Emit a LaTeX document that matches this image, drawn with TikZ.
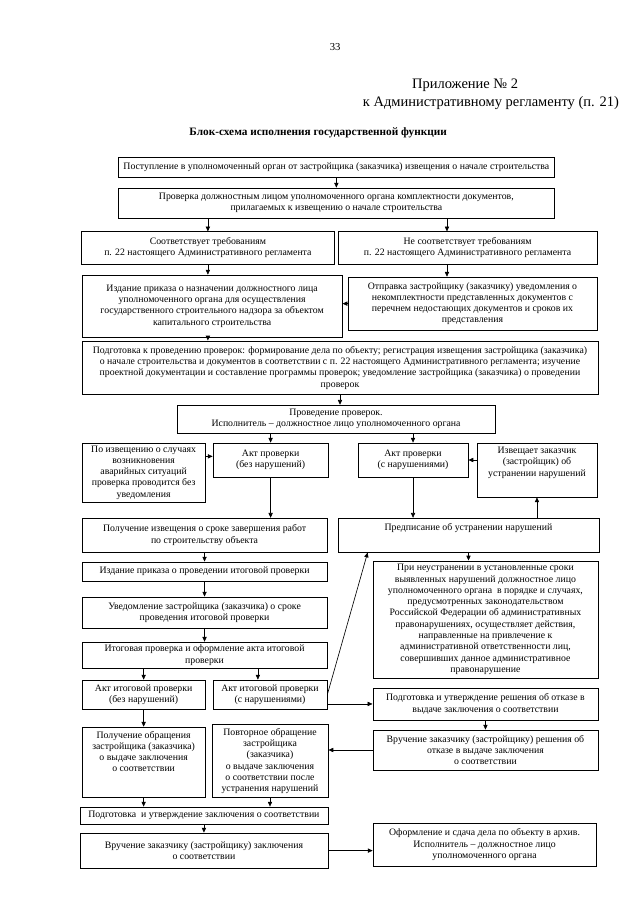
\documentclass[tikz,border=0pt]{standalone}
\usepackage{fontspec}
\setmainfont{Liberation Serif}
\usepackage{tikz}
\usetikzlibrary{arrows.meta,positioning,calc}
\newcommand\boxfont{\fontsize{9.2}{10.6}\selectfont}
\tikzset{
  box/.style={rectangle, draw=black, line width=0.7pt, align=center, inner sep=1pt, font=\boxfont},
  toptext/.style={text depth=#1},
  arr/.style={-{Triangle[length=1.6mm, width=1.4mm]}, line width=0.6pt, black},
}
\begin{document}
\begin{tikzpicture}[x=1cm, y=1cm]
\fill[white] (0,0) rectangle (21.12,-29.865);
\useasboundingbox (0,0) rectangle (21.12,-29.865);
\node[font=\fontsize{10}{12}\selectfont] (page) at (11.06,-1.55) {33};
\node[font=\fontsize{13.6}{16}\selectfont] (app) at (15.35,-2.81) {Приложение № 2};
\node[font=\fontsize{13.6}{16}\selectfont] (reg) at (16.2,-3.40) {к Административному регламенту (п. 21)};
\node[font=\fontsize{10.6}{13}\selectfont\bfseries] (title) at (10.5,-4.39) {Блок-схема исполнения государственной функции};
\node[box, minimum width=14.42cm, minimum height=0.66cm] (b1) at (11.10,-5.51)
{Поступление в уполномоченный орган от застройщика (заказчика) извещения о начале строительства};
\node[box, minimum width=14.42cm, minimum height=0.99cm] (b2) at (11.10,-6.70)
{Проверка должностным лицом уполномоченного органа комплектности документов,\\ прилагаемых к извещению о начале строительства};
\node[box, minimum width=8.32cm, minimum height=1.06cm] (b3L) at (6.86,-8.18)
{Соответствует требованиям\\ п. 22 настоящего Административного регламента};
\node[box, minimum width=8.55cm, minimum height=1.06cm] (b3R) at (15.43,-8.18)
{Не соответствует требованиям\\ п. 22 настоящего Административного регламента};
\node[box, minimum width=8.58cm, minimum height=2.05cm] (b4L) at (7.00,-10.10)
{Издание приказа о назначении должностного лица\\ уполномоченного органа для осуществления\\ государственного строительного надзора за объектом\\ капитального строительства};
\node[box, minimum width=8.22cm, minimum height=1.75cm] (b4R) at (15.59,-10.02)
{Отправка застройщику (заказчику) уведомления о\\ некомплектности представленных документов с\\ перечнем недостающих документов и сроков их\\ представления};
\node[box, minimum width=17.03cm, minimum height=1.78cm] (b5) at (11.22,-12.14)
{Подготовка к проведению проверок: формирование дела по объекту; регистрация извещения застройщика (заказчика)\\ о начале строительства и документов в соответствии с п. 22 настоящего Административного регламента; изучение\\ проектной документации и составление программы проверок; уведомление застройщика (заказчика) о проведении\\ проверок};
\node[box, minimum width=10.49cm, minimum height=0.92cm] (b6) at (11.09,-13.83)
{Проведение проверок.\\ Исполнитель – должностное лицо уполномоченного органа};
\node[box, minimum width=4.06cm, minimum height=1.95cm] (b7a) at (4.74,-15.59)
{По извещению о случаях\\ возникновения\\ аварийных ситуаций\\ проверка проводится без\\ уведомления};
\node[box, minimum width=3.80cm, minimum height=1.12cm] (b7b) at (8.93,-15.18)
{Акт проверки\\ (без нарушений)};
\node[box, minimum width=3.63cm, minimum height=1.12cm] (b7c) at (13.63,-15.18)
{Акт проверки\\ (с нарушениями)};
\node[box, toptext=0.55cm, minimum width=3.96cm, minimum height=1.78cm] (b8) at (17.72,-15.51)
{Извещает заказчик\\ (застройщик) об\\ устранении нарушений};
\node[box, minimum width=8.09cm, minimum height=1.12cm] (b9) at (6.75,-17.66)
{Получение извещения о сроке завершения работ\\ по строительству объекта};
\node[box, toptext=0.55cm, minimum width=8.61cm, minimum height=1.12cm] (b10) at (15.46,-17.66)
{Предписание об устранении нарушений};
\node[box, minimum width=8.09cm, minimum height=0.63cm] (b11) at (6.75,-18.86)
{Издание приказа о проведении итоговой проверки};
\node[box, minimum width=8.09cm, minimum height=1.02cm] (b12) at (6.75,-20.21)
{Уведомление застройщика (заказчика) о сроке\\ проведения итоговой проверки};
\node[box, minimum width=8.09cm, minimum height=0.86cm] (b13) at (6.75,-21.62)
{Итоговая проверка и оформление акта итоговой\\ проверки};
\node[box, minimum width=4.06cm, minimum height=0.96cm] (b14a) at (4.74,-22.92)
{Акт итоговой проверки\\ (без нарушений)};
\node[box, minimum width=3.76cm, minimum height=0.96cm] (b14b) at (8.91,-22.92)
{Акт итоговой проверки\\ (с нарушениями)};
\node[box, minimum width=7.43cm, minimum height=3.86cm] (b15) at (16.02,-20.44)
{При неустранении в установленные сроки\\ выявленных нарушений должностное лицо\\ уполномоченного органа \ в порядке и случаях,\\ предусмотренных законодательством\\ Российской Федерации об административных\\ правонарушениях, осуществляет действия,\\ направленные на привлечение к\\ административной ответственности лиц,\\ совершивших данное административное\\ правонарушение};
\node[box, minimum width=7.43cm, minimum height=1.06cm] (b16) at (16.02,-23.23)
{Подготовка и утверждение решения об отказе в\\ выдаче заключения о соответствии};
\node[box, minimum width=7.43cm, minimum height=1.32cm] (b17) at (16.02,-24.75)
{Вручение заказчику (застройщику) решения об\\ отказе в выдаче заключения\\ о соответствии};
\node[box, toptext=0.7cm, minimum width=4.06cm, minimum height=2.31cm] (b18a) at (4.74,-25.15)
{Получение обращения\\ застройщика (заказчика)\\ о выдаче заключения\\ о соответствии};
\node[box, minimum width=3.83cm, minimum height=2.38cm] (b18b) at (8.91,-25.11)
{Повторное обращение\\ застройщика\\ (заказчика)\\ о выдаче заключения\\ о соответствии после\\ устранения нарушений};
\node[box, minimum width=8.18cm, minimum height=0.56cm] (b19) at (6.73,-26.91)
{Подготовка \ и утверждение заключения о соответствии};
\node[box, minimum width=8.18cm, minimum height=1.16cm] (b20) at (6.73,-28.07)
{Вручение заказчику (застройщику) заключения\\ о соответствии};
\node[box, minimum width=7.36cm, minimum height=1.42cm] (b21) at (15.99,-27.87)
{Оформление и сдача дела по объекту в архив.\\ Исполнитель – должностное лицо\\ уполномоченного органа};
\coordinate (r2) at ([xshift=-0.68cm]b3R.north);
\coordinate (t2) at ([xshift=-0.4cm]b14b.north);
\coordinate (p1) at ([xshift=0.99cm]b10.south west);
\draw[arr] (b1.south) -- (b2.north);
\draw[arr] (b2.south -| b3L.north) -- (b3L.north);
\draw[arr] (b2.south -| r2) -- (r2);
\draw[arr] (b3L.south) -- (b3L.south |- b4L.north);
\draw[arr] (r2 |- b3R.south) -- (r2 |- b4R.north);
\draw[arr] (b4R.west) -- (b4R.west -| b4L.east);
\draw[arr] (b3L.south |- b4L.south) -- (b3L.south |- b5.north);
\draw[arr] (b5.south) -- (b5.south |- b6.north);
\draw[arr] (b6.south -| b7b.north) -- (b7b.north);
\draw[arr] (b6.south -| b7c.north) -- (b7c.north);
\draw[arr] ([yshift=0.12cm]b7a.east |- b7b.west) -- ([yshift=0.12cm]b7b.west);
\draw[arr] (b8.west |- b7c.east) -- (b7c.east);
\draw[arr] (b7b.south) -- (b7b.south |- b9.north);
\draw[arr] (b7c.south) -- (b7c.south |- b10.north);
\draw[arr] (b8.south |- b10.north) -- (b8.south);
\draw[arr] (b9.south) -- (b11.north);
\draw[arr] (b11.south) -- (b12.north);
\draw[arr] (b12.south) -- (b13.north);
\draw[arr] (b13.south -| b14a.north) -- (b14a.north);
\draw[arr] (b13.south -| t2) -- (t2);
\draw[arr] (b14a.south) -- (b14a.south |- b18a.north);
\draw[arr] (b14b.east) -- (p1);
\draw[arr] (b14b.east |- b16.west) -- (b16.west);
\draw[arr] (b10.south) -- (b10.south |- b15.north);
\draw[arr] (b16.south) -- (b17.north);
\draw[arr] (b17.west) -- (b17.west -| b18b.east);
\draw[arr] (b18a.south) -- (b18a.south |- b19.north);
\draw[arr] (b18b.south) -- (b18b.south |- b19.north);
\draw[arr] (b19.south) -- (b20.north);
\draw[arr] (b20.east) -- (b20.east -| b21.west);
\end{tikzpicture}
\end{document}
